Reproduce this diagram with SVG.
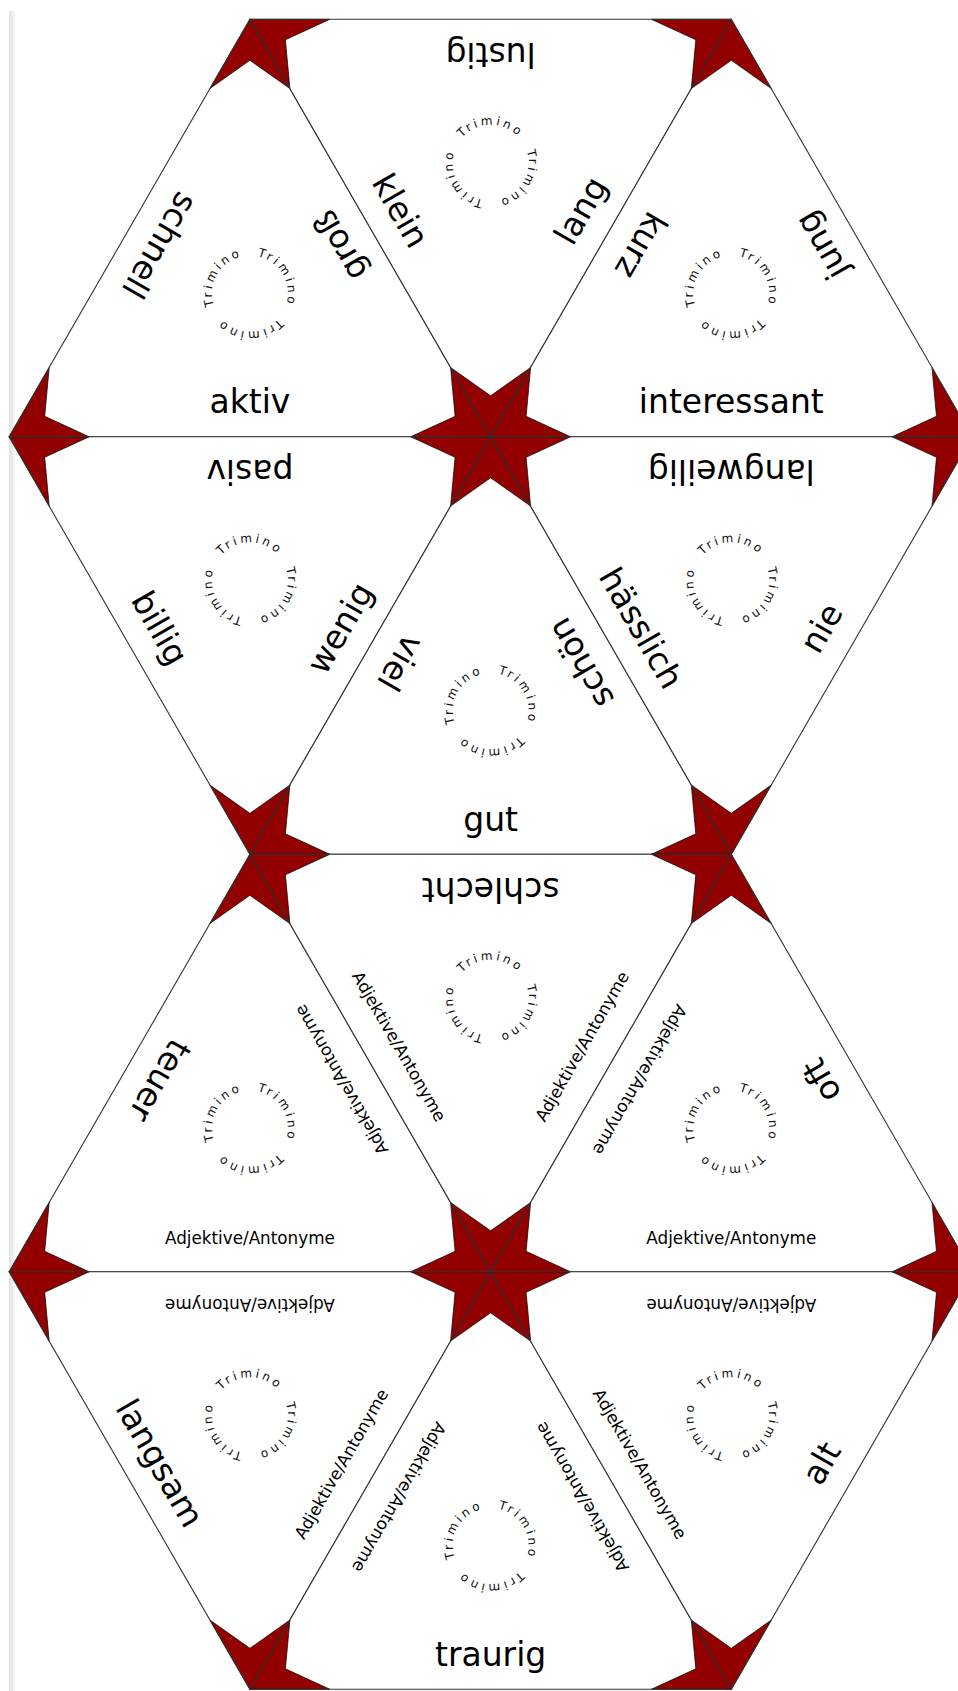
<svg xmlns="http://www.w3.org/2000/svg" xmlns:xlink="http://www.w3.org/1999/xlink" width="958" height="1691" viewBox="0 0 958 1691">
<style>
.tf{fill:#ffffff;stroke:none}
.te{fill:none;stroke:#333333;stroke-width:1.1;stroke-linejoin:miter}
.k{fill:#930000;stroke:#000000;stroke-width:0.7;stroke-linejoin:miter}
text{font-family:"DejaVu Sans","Liberation Sans",sans-serif;fill:#000000}
.w{font-size:33px;text-anchor:middle}
.s{font-size:16.8px;text-anchor:middle}
.tri text{font-size:12px;letter-spacing:3px;text-anchor:middle;fill:#111111}
</style>
<defs>
<linearGradient id="strip" x1="0" y1="0" x2="1" y2="0">
<stop offset="0" stop-color="#e2e2e2"/>
<stop offset="1" stop-color="#f5f5f5"/>
</linearGradient>
<path id="c" d="M0,38 A38,38 0 1,1 0,-38 A38,38 0 1,1 0,38"/>
</defs>
<rect x="0" y="0" width="958" height="1691" fill="#ffffff"/>
<rect x="9" y="11" width="6" height="1680" fill="url(#strip)"/>
<g id="connectors"></g>

<g id="t1" transform="translate(249.9,19.3)">
<polygon class="tf" points="0,0 -240.7,417.5 240.7,417.5"/>
<polygon class="k" points="0,0 -40,69.3 0,41 40,69.3"/>
<polygon class="k" points="-240.7,417.5 -160.7,417.5 -205.2,397 -200.7,348.2"/>
<polygon class="k" points="240.7,417.5 160.7,417.5 205.2,397 200.7,348.2"/>
<polygon class="te" points="0,0 -240.7,417.5 240.7,417.5"/>
<g class="tri" transform="translate(0,274.3)">
<text transform="rotate(180)"><textPath xlink:href="#c" startOffset="50%">Trimino</textPath></text>
<text transform="rotate(300)"><textPath xlink:href="#c" startOffset="50%">Trimino</textPath></text>
<text transform="rotate(60)"><textPath xlink:href="#c" startOffset="50%">Trimino</textPath></text>
</g>
<text class="w" transform="translate(-120.35,208.75) rotate(120)" y="-23.5">schnell</text>
<text class="w" transform="translate(120.35,208.75) rotate(-120)" y="-23.5">groß</text>
<text class="w" transform="translate(0,417.5)" y="-23.5">aktiv</text>
</g>

<g id="t2" transform="translate(249.9,19.3)">
<polygon class="tf" points="0,0 481.4,0 240.7,417.5"/>
<polygon class="k" points="0,0 80,0 35.5,20.5 40,69.3"/>
<polygon class="k" points="481.4,0 401.4,0 445.9,20.5 441.4,69.3"/>
<polygon class="k" points="240.7,417.5 200.7,348.2 240.7,376.5 280.7,348.2"/>
<polygon class="te" points="0,0 481.4,0 240.7,417.5"/>
<g class="tri" transform="translate(240.7,143.5)">
<text><textPath xlink:href="#c" startOffset="50%">Trimino</textPath></text>
<text transform="rotate(120)"><textPath xlink:href="#c" startOffset="50%">Trimino</textPath></text>
<text transform="rotate(240)"><textPath xlink:href="#c" startOffset="50%">Trimino</textPath></text>
</g>
<text class="w" transform="translate(240.7,0) rotate(180)" y="-23.5">lustig</text>
<text class="w" transform="translate(120.35,208.75) rotate(60)" y="-23.5">klein</text>
<text class="w" transform="translate(361.05,208.75) rotate(-60)" y="-23.5">lang</text>
</g>

<g id="t3" transform="translate(731.3,19.3)">
<polygon class="tf" points="0,0 -240.7,417.5 240.7,417.5"/>
<polygon class="k" points="0,0 -40,69.3 0,41 40,69.3"/>
<polygon class="k" points="-240.7,417.5 -160.7,417.5 -205.2,397 -200.7,348.2"/>
<polygon class="k" points="240.7,417.5 160.7,417.5 205.2,397 200.7,348.2"/>
<polygon class="te" points="0,0 -240.7,417.5 240.7,417.5"/>
<g class="tri" transform="translate(0,274.3)">
<text transform="rotate(180)"><textPath xlink:href="#c" startOffset="50%">Trimino</textPath></text>
<text transform="rotate(300)"><textPath xlink:href="#c" startOffset="50%">Trimino</textPath></text>
<text transform="rotate(60)"><textPath xlink:href="#c" startOffset="50%">Trimino</textPath></text>
</g>
<text class="w" transform="translate(-120.35,208.75) rotate(120)" y="-23.5">kurz</text>
<text class="w" transform="translate(120.35,208.75) rotate(-120)" y="-23.5">jung</text>
<text class="w" transform="translate(0,417.5)" y="-23.5">interessant</text>
</g>

<g id="t4" transform="translate(9.2,436.8)">
<polygon class="tf" points="0,0 481.4,0 240.7,417.5"/>
<polygon class="k" points="0,0 80,0 35.5,20.5 40,69.3"/>
<polygon class="k" points="481.4,0 401.4,0 445.9,20.5 441.4,69.3"/>
<polygon class="k" points="240.7,417.5 200.7,348.2 240.7,376.5 280.7,348.2"/>
<polygon class="te" points="0,0 481.4,0 240.7,417.5"/>
<g class="tri" transform="translate(240.7,143.5)">
<text><textPath xlink:href="#c" startOffset="50%">Trimino</textPath></text>
<text transform="rotate(120)"><textPath xlink:href="#c" startOffset="50%">Trimino</textPath></text>
<text transform="rotate(240)"><textPath xlink:href="#c" startOffset="50%">Trimino</textPath></text>
</g>
<text class="w" transform="translate(240.7,0) rotate(180)" y="-23.5">pasiv</text>
<text class="w" transform="translate(120.35,208.75) rotate(60)" y="-23.5">billig</text>
<text class="w" transform="translate(361.05,208.75) rotate(-60)" y="-23.5">wenig</text>
</g>

<g id="t5" transform="translate(490.6,436.8)">
<polygon class="tf" points="0,0 -240.7,417.5 240.7,417.5"/>
<polygon class="k" points="0,0 -40,69.3 0,41 40,69.3"/>
<polygon class="k" points="-240.7,417.5 -160.7,417.5 -205.2,397 -200.7,348.2"/>
<polygon class="k" points="240.7,417.5 160.7,417.5 205.2,397 200.7,348.2"/>
<polygon class="te" points="0,0 -240.7,417.5 240.7,417.5"/>
<g class="tri" transform="translate(0,274.3)">
<text transform="rotate(180)"><textPath xlink:href="#c" startOffset="50%">Trimino</textPath></text>
<text transform="rotate(300)"><textPath xlink:href="#c" startOffset="50%">Trimino</textPath></text>
<text transform="rotate(60)"><textPath xlink:href="#c" startOffset="50%">Trimino</textPath></text>
</g>
<text class="w" transform="translate(-120.35,208.75) rotate(120)" y="-23.5">viel</text>
<text class="w" transform="translate(120.35,208.75) rotate(-120)" y="-23.5">schön</text>
<text class="w" transform="translate(0,417.5)" y="-23.5">gut</text>
</g>

<g id="t6" transform="translate(490.6,436.8)">
<polygon class="tf" points="0,0 481.4,0 240.7,417.5"/>
<polygon class="k" points="0,0 80,0 35.5,20.5 40,69.3"/>
<polygon class="k" points="481.4,0 401.4,0 445.9,20.5 441.4,69.3"/>
<polygon class="k" points="240.7,417.5 200.7,348.2 240.7,376.5 280.7,348.2"/>
<polygon class="te" points="0,0 481.4,0 240.7,417.5"/>
<g class="tri" transform="translate(240.7,143.5)">
<text><textPath xlink:href="#c" startOffset="50%">Trimino</textPath></text>
<text transform="rotate(120)"><textPath xlink:href="#c" startOffset="50%">Trimino</textPath></text>
<text transform="rotate(240)"><textPath xlink:href="#c" startOffset="50%">Trimino</textPath></text>
</g>
<text class="w" transform="translate(240.7,0) rotate(180)" y="-23.5">langweilig</text>
<text class="w" transform="translate(120.35,208.75) rotate(60)" y="-23.5">hässlich</text>
<text class="w" transform="translate(361.05,208.75) rotate(-60)" y="-23.5">nie</text>
</g>

<g id="t7" transform="translate(249.9,854.3)">
<polygon class="tf" points="0,0 -240.7,417.5 240.7,417.5"/>
<polygon class="k" points="0,0 -40,69.3 0,41 40,69.3"/>
<polygon class="k" points="-240.7,417.5 -160.7,417.5 -205.2,397 -200.7,348.2"/>
<polygon class="k" points="240.7,417.5 160.7,417.5 205.2,397 200.7,348.2"/>
<polygon class="te" points="0,0 -240.7,417.5 240.7,417.5"/>
<g class="tri" transform="translate(0,274.3)">
<text transform="rotate(180)"><textPath xlink:href="#c" startOffset="50%">Trimino</textPath></text>
<text transform="rotate(300)"><textPath xlink:href="#c" startOffset="50%">Trimino</textPath></text>
<text transform="rotate(60)"><textPath xlink:href="#c" startOffset="50%">Trimino</textPath></text>
</g>
<text class="w" transform="translate(-120.35,208.75) rotate(120)" y="-23.5">teuer</text>
<text class="s" transform="translate(120.35,208.75) rotate(-120)" y="-27.5">Adjektive/Antonyme</text>
<text class="s" transform="translate(0,417.5)" y="-27.5">Adjektive/Antonyme</text>
</g>

<g id="t8" transform="translate(249.9,854.3)">
<polygon class="tf" points="0,0 481.4,0 240.7,417.5"/>
<polygon class="k" points="0,0 80,0 35.5,20.5 40,69.3"/>
<polygon class="k" points="481.4,0 401.4,0 445.9,20.5 441.4,69.3"/>
<polygon class="k" points="240.7,417.5 200.7,348.2 240.7,376.5 280.7,348.2"/>
<polygon class="te" points="0,0 481.4,0 240.7,417.5"/>
<g class="tri" transform="translate(240.7,143.5)">
<text><textPath xlink:href="#c" startOffset="50%">Trimino</textPath></text>
<text transform="rotate(120)"><textPath xlink:href="#c" startOffset="50%">Trimino</textPath></text>
<text transform="rotate(240)"><textPath xlink:href="#c" startOffset="50%">Trimino</textPath></text>
</g>
<text class="w" transform="translate(240.7,0) rotate(180)" y="-23.5">schlecht</text>
<text class="s" transform="translate(120.35,208.75) rotate(60)" y="-27.5">Adjektive/Antonyme</text>
<text class="s" transform="translate(361.05,208.75) rotate(-60)" y="-27.5">Adjektive/Antonyme</text>
</g>

<g id="t9" transform="translate(731.3,854.3)">
<polygon class="tf" points="0,0 -240.7,417.5 240.7,417.5"/>
<polygon class="k" points="0,0 -40,69.3 0,41 40,69.3"/>
<polygon class="k" points="-240.7,417.5 -160.7,417.5 -205.2,397 -200.7,348.2"/>
<polygon class="k" points="240.7,417.5 160.7,417.5 205.2,397 200.7,348.2"/>
<polygon class="te" points="0,0 -240.7,417.5 240.7,417.5"/>
<g class="tri" transform="translate(0,274.3)">
<text transform="rotate(180)"><textPath xlink:href="#c" startOffset="50%">Trimino</textPath></text>
<text transform="rotate(300)"><textPath xlink:href="#c" startOffset="50%">Trimino</textPath></text>
<text transform="rotate(60)"><textPath xlink:href="#c" startOffset="50%">Trimino</textPath></text>
</g>
<text class="s" transform="translate(-120.35,208.75) rotate(120)" y="-27.5">Adjektive/Antonyme</text>
<text class="w" transform="translate(120.35,208.75) rotate(-120)" y="-23.5">oft</text>
<text class="s" transform="translate(0,417.5)" y="-27.5">Adjektive/Antonyme</text>
</g>

<g id="t10" transform="translate(9.2,1271.8)">
<polygon class="tf" points="0,0 481.4,0 240.7,417.5"/>
<polygon class="k" points="0,0 80,0 35.5,20.5 40,69.3"/>
<polygon class="k" points="481.4,0 401.4,0 445.9,20.5 441.4,69.3"/>
<polygon class="k" points="240.7,417.5 200.7,348.2 240.7,376.5 280.7,348.2"/>
<polygon class="te" points="0,0 481.4,0 240.7,417.5"/>
<g class="tri" transform="translate(240.7,143.5)">
<text><textPath xlink:href="#c" startOffset="50%">Trimino</textPath></text>
<text transform="rotate(120)"><textPath xlink:href="#c" startOffset="50%">Trimino</textPath></text>
<text transform="rotate(240)"><textPath xlink:href="#c" startOffset="50%">Trimino</textPath></text>
</g>
<text class="s" transform="translate(240.7,0) rotate(180)" y="-27.5">Adjektive/Antonyme</text>
<text class="w" transform="translate(120.35,208.75) rotate(60)" y="-23.5">langsam</text>
<text class="s" transform="translate(361.05,208.75) rotate(-60)" y="-27.5">Adjektive/Antonyme</text>
</g>

<g id="t11" transform="translate(490.6,1271.8)">
<polygon class="tf" points="0,0 -240.7,417.5 240.7,417.5"/>
<polygon class="k" points="0,0 -40,69.3 0,41 40,69.3"/>
<polygon class="k" points="-240.7,417.5 -160.7,417.5 -205.2,397 -200.7,348.2"/>
<polygon class="k" points="240.7,417.5 160.7,417.5 205.2,397 200.7,348.2"/>
<polygon class="te" points="0,0 -240.7,417.5 240.7,417.5"/>
<g class="tri" transform="translate(0,274.3)">
<text transform="rotate(180)"><textPath xlink:href="#c" startOffset="50%">Trimino</textPath></text>
<text transform="rotate(300)"><textPath xlink:href="#c" startOffset="50%">Trimino</textPath></text>
<text transform="rotate(60)"><textPath xlink:href="#c" startOffset="50%">Trimino</textPath></text>
</g>
<text class="s" transform="translate(-120.35,208.75) rotate(120)" y="-27.5">Adjektive/Antonyme</text>
<text class="s" transform="translate(120.35,208.75) rotate(-120)" y="-27.5">Adjektive/Antonyme</text>
<text class="w" transform="translate(0,417.5)" y="-23.5">traurig</text>
</g>

<g id="t12" transform="translate(490.6,1271.8)">
<polygon class="tf" points="0,0 481.4,0 240.7,417.5"/>
<polygon class="k" points="0,0 80,0 35.5,20.5 40,69.3"/>
<polygon class="k" points="481.4,0 401.4,0 445.9,20.5 441.4,69.3"/>
<polygon class="k" points="240.7,417.5 200.7,348.2 240.7,376.5 280.7,348.2"/>
<polygon class="te" points="0,0 481.4,0 240.7,417.5"/>
<g class="tri" transform="translate(240.7,143.5)">
<text><textPath xlink:href="#c" startOffset="50%">Trimino</textPath></text>
<text transform="rotate(120)"><textPath xlink:href="#c" startOffset="50%">Trimino</textPath></text>
<text transform="rotate(240)"><textPath xlink:href="#c" startOffset="50%">Trimino</textPath></text>
</g>
<text class="s" transform="translate(240.7,0) rotate(180)" y="-27.5">Adjektive/Antonyme</text>
<text class="s" transform="translate(120.35,208.75) rotate(60)" y="-27.5">Adjektive/Antonyme</text>
<text class="w" transform="translate(361.05,208.75) rotate(-60)" y="-23.5">alt</text>
</g>
</svg>
